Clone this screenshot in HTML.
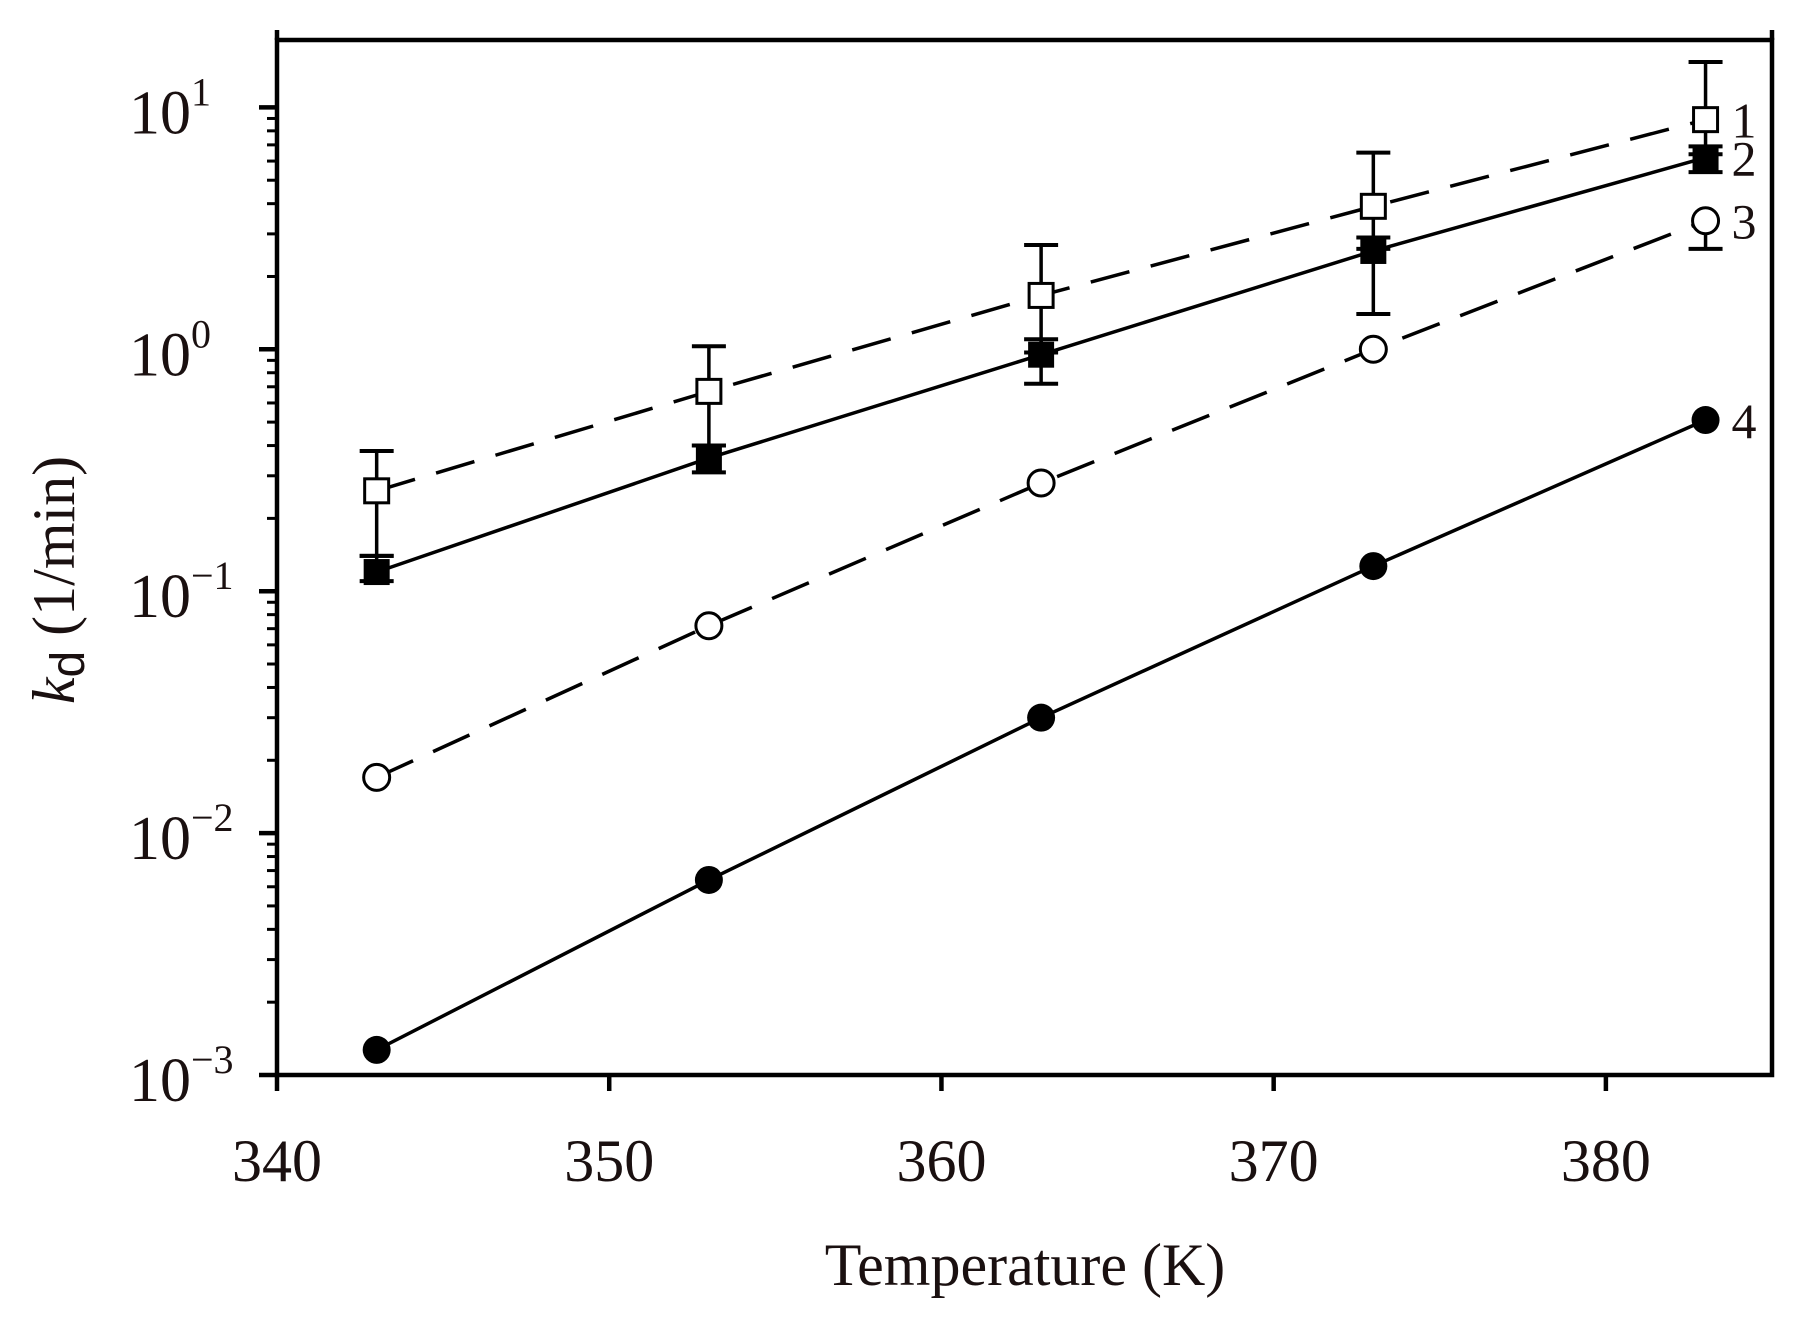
<!DOCTYPE html>
<html><head><meta charset="utf-8"><style>
html,body{margin:0;padding:0;background:#fff;}
svg{display:block;font-family:"Liberation Serif",serif;}
</style></head><body>
<svg id="chart" width="1794" height="1322" viewBox="0 0 1794 1322" xmlns="http://www.w3.org/2000/svg"></svg>
<script>
const temps = [343, 353, 363, 373, 383];
const s1 = [0.26, 0.67, 1.67, 3.9, 8.9];
const s1Hi = [0.38, 1.03, 2.7, 6.5, 15.4];
const s1Lo = [0.14, 0.40, 0.97, 2.6, 6.4];
const s2 = [0.12, 0.355, 0.95, 2.55, 6.2];
const s2Hi = [0.14, 0.40, 1.1, 2.9, 6.9];
const s2Lo = [0.11, 0.31, 0.72, 1.4, 5.4];
const s3 = [0.017, 0.072, 0.28, 1.0, 3.4];
const s3Lo = [0.017, 0.072, 0.28, 1.0, 2.6];
const s4 = [0.00127, 0.0064, 0.030, 0.127, 0.51];
const xTicks = [340, 350, 360, 370, 380];
const yExps = [-3, -2, -1, 0, 1];
const seriesLabels = ["1", "2", "3", "4"];

const NS = "http://www.w3.org/2000/svg";
const svg = document.getElementById("chart");
const L = 277, R = 1772, B = 1075, T = 40;
const xMin = 340, xMax = 385;
const X = v => L + (v - xMin) / (xMax - xMin) * (R - L);
const Y = v => B - (Math.log10(v) + 3) * 241.9;
function el(tag, attrs, parent) {
  const e = document.createElementNS(NS, tag);
  for (const k in attrs) e.setAttribute(k, attrs[k]);
  (parent || svg).appendChild(e);
  return e;
}
const frame = el("path", {d:`M${L},${T} H${R} V${B} H${L} Z`, fill:"none", stroke:"#000", "stroke-width":4.5});


el("line",{x1:R,y1:30,x2:R,y2:T,stroke:"#000","stroke-width":4.5});
el("line",{x1:L,y1:30,x2:L,y2:T,stroke:"#000","stroke-width":4.5});
xTicks.forEach(t => {
  const g = el("g", {});
  
  
  el("line", {x1:X(t), y1:B, x2:X(t), y2:B+16, stroke:"#000", "stroke-width":4.5}, g);
  const tx = el("text", {x:X(t), y:B+106, "font-size":60, "text-anchor":"middle", fill:"#1a1010"}, g);
  tx.textContent = t;
});
yExps.forEach(e => {
  const g = el("g", {});
  
  
  const y = Y(Math.pow(10, e));
  el("line", {x1:L-18, y1:y, x2:L, y2:y, stroke:"#000", "stroke-width":4.5}, g);
  const tx = el("text", {x:L-86, y:y+26, "font-size":62, "text-anchor":"end", fill:"#1a1010"}, g);
  tx.textContent = "10";
  const sup = el("text", {x:L-86, y:y-2, "font-size":40, fill:"#1a1010"}, g);
  sup.textContent = e < 0 ? "\u2212" + (-e) : String(e);
  if (e < 1) for (let m = 2; m <= 9; m++) {
    const ym = Y(m * Math.pow(10, e));
    el("line", {x1:L-10, y1:ym, x2:L, y2:ym, stroke:"#000", "stroke-width":3}, g);
  }
});
const xt = el("text", {x:1025, y:1285, "font-size":60, "text-anchor":"middle", fill:"#1a1010"});


xt.textContent = "Temperature (K)";
const yt = el("text", {transform:"translate(74,580) rotate(-90)", "font-size":60, "text-anchor":"middle", fill:"#1a1010"});


const k = el("tspan", {"font-style":"italic"}, yt); k.textContent = "k";
const d = el("tspan", {dy:10, "font-size":48, "font-family":"Liberation Sans, sans-serif"}, yt); d.textContent = "d";
const r = el("tspan", {dy:-10}, yt); r.textContent = " (1/min)";

function drawSeries(name, vals, dash, marker, hi, lo) {
  const g = el("g", {});
  
  
  const pts = vals.map((v, i) => X(temps[i]) + "," + Y(v)).join(" ");
  const line = el("polyline", {points:pts, fill:"none", stroke:"#000", "stroke-width":3.5}, g);
  if (dash) line.setAttribute("stroke-dasharray", "40,22");
  vals.forEach((v, i) => {
    const x = X(temps[i]);
    if (hi || lo) {
      const yh = Y(hi ? hi[i] : v), yl = Y(lo ? lo[i] : v);
      el("line", {x1:x, y1:yh, x2:x, y2:yl, stroke:"#000", "stroke-width":3.5}, g);
      if (hi && hi[i] > v) el("line", {x1:x-17, y1:yh, x2:x+17, y2:yh, stroke:"#000", "stroke-width":4}, g);
      if (lo && lo[i] < v) el("line", {x1:x-17, y1:yl, x2:x+17, y2:yl, stroke:"#000", "stroke-width":4}, g);
    }
    const y = Y(v);
    let m;
    if (marker === "osq") m = el("rect", {x:x-12, y:y-12, width:24, height:24, fill:"#fff", stroke:"#000", "stroke-width":3}, g);
    else if (marker === "fsq") m = el("rect", {x:x-13, y:y-13, width:26, height:26, fill:"#000"}, g);
    else if (marker === "oc") m = el("circle", {cx:x, cy:y, r:13, fill:"#fff", stroke:"#000", "stroke-width":3}, g);
    else m = el("circle", {cx:x, cy:y, r:14, fill:"#000"}, g);
    
    
  });
}
drawSeries("series-1", s1, true, "osq", s1Hi, s1Lo);
drawSeries("series-2", s2, false, "fsq", s2Hi, s2Lo);
drawSeries("series-3", s3, true, "oc", null, s3Lo);
drawSeries("series-4", s4, false, "fc", null, null);

[s1, s2, s3, s4].forEach((s, i) => {
  const t = el("text", {x:X(383)+26, y:Y(s[s.length-1])+18, "font-size":50, fill:"#1a1010"});
  
  
  t.textContent = seriesLabels[i];
});
</script>
</body></html>
